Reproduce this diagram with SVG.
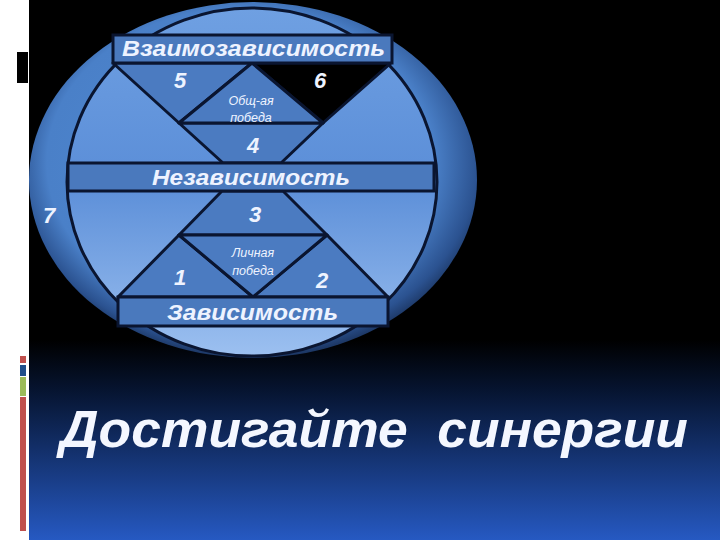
<svg xmlns="http://www.w3.org/2000/svg" width="720" height="540" viewBox="0 0 720 540">
<defs>
<linearGradient id="bottomBg" x1="0" y1="0" x2="0" y2="1">
<stop offset="0" stop-color="#000000"/>
<stop offset="0.25" stop-color="#061430"/>
<stop offset="1" stop-color="#2659c2"/>
</linearGradient>
<radialGradient id="ring" cx="0.5" cy="0.45" r="0.6" fx="0.4" fy="0.45">
<stop offset="0" stop-color="#4f88d2"/>
<stop offset="0.72" stop-color="#4a80c8"/>
<stop offset="0.86" stop-color="#2b5290"/>
<stop offset="1" stop-color="#060e22"/>
</radialGradient>
<linearGradient id="inner" x1="0" y1="0" x2="0" y2="1">
<stop offset="0" stop-color="#6fa0e2"/>
<stop offset="0.5" stop-color="#5b8ed8"/>
<stop offset="1" stop-color="#9cc0f0"/>
</linearGradient>
<style>
.seg{fill:#4b7bc1;stroke:#0a1530;stroke-width:3;stroke-linejoin:round}
.dark{fill:#000000;stroke:#0a1530;stroke-width:3;stroke-linejoin:round}
.band{fill:#4a79bd;stroke:#0a1530;stroke-width:3}
.t{font-family:"Liberation Sans","DejaVu Sans",sans-serif;font-style:italic;font-weight:bold;fill:#eef3ff}
.big{font-size:22px}
.num{font-size:22px;text-anchor:middle}
.sm{font-size:12.5px;text-anchor:middle;font-weight:normal}
.title{font-size:52px;fill:#f4f7ff;white-space:pre}
</style>
</defs>
<rect x="0" y="0" width="720" height="540" fill="#000"/>
<rect x="29" y="340" width="691" height="200" fill="url(#bottomBg)"/>
<g id="sidebar">
<rect x="0" y="0" width="29" height="540" fill="#ffffff"/>
<rect x="17" y="52" width="11" height="31" fill="#000"/>
<rect x="20" y="356" width="6" height="7" fill="#c0504d"/>
<rect x="20" y="365" width="6" height="11" fill="#1f4e8a"/>
<rect x="20" y="377" width="6" height="19" fill="#9bbb59"/>
<rect x="20" y="397" width="6" height="134" fill="#c0504d"/>
</g>
<g id="ring7">
<ellipse cx="253" cy="180" rx="224" ry="178" fill="url(#ring)"/>
<text class="t num" x="49" y="223">7</text>
</g>
<g id="innerCircle">
<ellipse cx="252" cy="182" rx="185" ry="174" fill="url(#inner)" stroke="#0a1530" stroke-width="3"/>
</g>
<g id="connectors">
<polygon class="seg" points="179,123 323,123 281,163 223,163"/>
<polygon class="seg" points="222,191 283,191 327,235 179,235"/>
</g>
<g id="region5">
<polygon class="seg" points="113,63 252,63 179,123"/>
<text class="t num" x="180" y="88">5</text>
</g>
<g id="region6">
<polygon class="dark" points="252,63 391,63 323,123"/>
<text class="t num" x="320" y="88">6</text>
</g>
<g id="commonVictory">
<polygon class="seg" points="252,63 323,123 179,123"/>
<text class="t sm" x="251" y="105">Общ-ая</text>
<text class="t sm" x="251" y="122">победа</text>
</g>
<g id="region4">
<text class="t num" x="253" y="153">4</text>
</g>
<g id="region3">
<text class="t num" x="255" y="222">3</text>
</g>
<g id="region1">
<polygon class="seg" points="179,235 253,297 118,297"/>
<text class="t num" x="180" y="285">1</text>
</g>
<g id="region2">
<polygon class="seg" points="327,235 388,297 253,297"/>
<text class="t num" x="322" y="288">2</text>
</g>
<g id="personalVictory">
<polygon class="seg" points="179,235 327,235 253,297"/>
<text class="t sm" x="253" y="257">Личная</text>
<text class="t sm" x="253" y="275">победа</text>
</g>
<g id="interdependence">
<rect class="band" x="113" y="35" width="279" height="28"/>
<text class="t big" x="122" y="56" textLength="263" lengthAdjust="spacingAndGlyphs">Взаимозависимость</text>
</g>
<g id="independence">
<rect class="band" x="68" y="163" width="366" height="28"/>
<text class="t big" x="152" y="185" textLength="198" lengthAdjust="spacingAndGlyphs">Независимость</text>
</g>
<g id="dependence">
<rect class="band" x="118" y="297" width="270" height="29"/>
<text class="t big" x="167" y="320" textLength="171" lengthAdjust="spacingAndGlyphs">Зависимость</text>
</g>
<g id="title">
<text class="t title" x="60" y="447" textLength="628" lengthAdjust="spacingAndGlyphs">Достигайте  синергии</text>
</g>
</svg>
